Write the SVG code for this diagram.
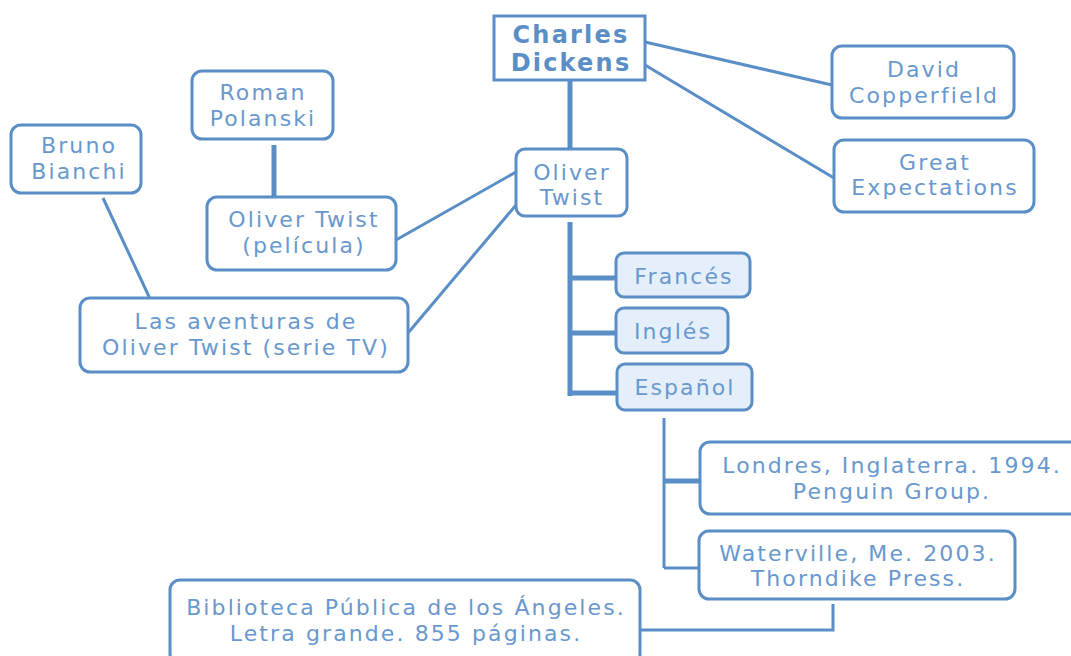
<svg xmlns="http://www.w3.org/2000/svg" width="1071" height="656" viewBox="0 0 1071 656">
<style>
.box{fill:#fff;stroke:#5a8ec6;stroke-width:3}
.lang{fill:#e4effb;stroke:#5a8ec6;stroke-width:3}
.t{font-family:"DejaVu Sans",Verdana,sans-serif;font-size:22px;letter-spacing:2.1px;fill:#6898ce;text-anchor:middle}
.b{font-weight:bold;font-size:24px;letter-spacing:2.2px;fill:#5a8ec6}
.c{stroke:#5a8ec6;stroke-width:3;fill:none}
.k{stroke:#5a8ec6;stroke-width:5;fill:none}
</style>
<rect width="1071" height="656" fill="#fff"/>
<g id="connectors">
<line class="k" x1="570" y1="80" x2="570" y2="150"/>
<line class="c" x1="645" y1="42" x2="832" y2="85"/>
<line class="c" x1="645" y1="65" x2="834" y2="178"/>
<line class="k" x1="570" y1="222" x2="570" y2="396"/>
<line class="k" x1="568" y1="278" x2="616" y2="278"/>
<line class="k" x1="568" y1="333" x2="616" y2="333"/>
<line class="k" x1="568" y1="393" x2="617" y2="393"/>
<line class="c" x1="664" y1="418" x2="664" y2="568"/>
<line class="k" x1="664" y1="481" x2="700" y2="481"/>
<line class="c" x1="664" y1="568" x2="699" y2="568"/>
<polyline class="c" points="833,604 833,630 640,630"/>
<line class="k" x1="274" y1="145" x2="274" y2="198"/>
<line class="c" x1="396" y1="240" x2="516" y2="172"/>
<line class="c" x1="408" y1="333" x2="516" y2="205"/>
<line class="c" x1="103" y1="198" x2="152" y2="303"/>
</g>
<g id="charles-dickens">
<rect class="box" x="494" y="16" width="151" height="64"/>
<text class="t b" x="571" y="43">Charles</text>
<text class="t b" x="571" y="71">Dickens</text>
</g>
<g id="oliver-twist">
<rect class="box" x="516" y="149" width="111" height="67" rx="9"/>
<text class="t" x="572" y="180">Oliver</text>
<text class="t" x="572" y="205">Twist</text>
</g>
<g id="david-copperfield">
<rect class="box" x="832" y="46" width="182" height="72" rx="10"/>
<text class="t" x="924" y="77">David</text>
<text class="t" x="924" y="103">Copperfield</text>
</g>
<g id="great-expectations">
<rect class="box" x="834" y="140" width="200" height="72" rx="10"/>
<text class="t" x="935" y="170">Great</text>
<text class="t" x="935" y="195">Expectations</text>
</g>
<g id="frances">
<rect class="lang" x="616" y="253" width="134" height="44" rx="8"/>
<text class="t" x="684" y="284">Francés</text>
</g>
<g id="ingles">
<rect class="lang" x="616" y="308" width="112" height="45" rx="8"/>
<text class="t" x="673" y="339">Inglés</text>
</g>
<g id="espanol">
<rect class="lang" x="617" y="364" width="135" height="46" rx="8"/>
<text class="t" x="685" y="395">Español</text>
</g>
<g id="londres">
<rect class="box" x="700" y="442" width="380" height="72" rx="10"/>
<text class="t" x="892" y="473">Londres, Inglaterra. 1994.</text>
<text class="t" x="892" y="499">Penguin Group.</text>
</g>
<g id="waterville">
<rect class="box" x="699" y="531" width="316" height="68" rx="10"/>
<text class="t" x="858" y="561">Waterville, Me. 2003.</text>
<text class="t" x="858" y="586">Thorndike Press.</text>
</g>
<g id="biblioteca">
<rect class="box" x="170" y="580" width="470" height="84" rx="10"/>
<text class="t" x="406" y="615">Biblioteca Pública de los Ángeles.</text>
<text class="t" x="406" y="641">Letra grande. 855 páginas.</text>
</g>
<g id="roman-polanski">
<rect class="box" x="192" y="71" width="141" height="68" rx="10"/>
<text class="t" x="263" y="100">Roman</text>
<text class="t" x="263" y="126">Polanski</text>
</g>
<g id="oliver-twist-pelicula">
<rect class="box" x="207" y="197" width="189" height="73" rx="10"/>
<text class="t" x="304" y="227">Oliver Twist</text>
<text class="t" x="304" y="253">(película)</text>
</g>
<g id="bruno-bianchi">
<rect class="box" x="11" y="125" width="130" height="68" rx="10"/>
<text class="t" x="79" y="153">Bruno</text>
<text class="t" x="79" y="179">Bianchi</text>
</g>
<g id="las-aventuras">
<rect class="box" x="80" y="298" width="328" height="74" rx="10"/>
<text class="t" x="246" y="329">Las aventuras de</text>
<text class="t" x="246" y="355">Oliver Twist (serie TV)</text>
</g>
</svg>
